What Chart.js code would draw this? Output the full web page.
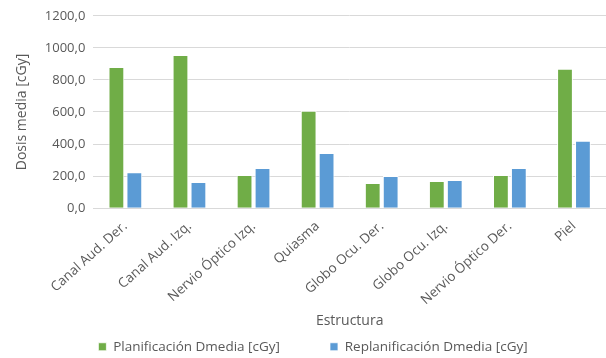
<!DOCTYPE html>
<html><head><meta charset="utf-8">
<script src="https://cdn.jsdelivr.net/npm/chart.js@4/dist/chart.umd.min.js"></script>
<style>html,body{margin:0;padding:0;background:#fff}#w{width:606px;height:358px}</style>
</head><body><div id="w"><canvas id="c"></canvas></div>
<script>
const categories = ["Canal Aud. Der.","Canal Aud. Izq.","Nervio Óptico Izq.","Quiasma","Globo Ocu. Der.","Globo Ocu. Izq.","Nervio Óptico Der.","Piel"];
const planificacion = [881, 956, 207, 607, 157, 170, 207, 869];
const replanificacion = [224, 163, 251, 344, 201, 176, 251, 421];
const seriesNames = ["Planificación Dmedia [cGy]","Replanificación Dmedia [cGy]"];
const FONT = "'Open Sans', 'Noto Sans', sans-serif";
const LEGEND_GAP = 50;
const LEGEND_H = 25;
const legendTweak = {
  id: 'legendTweak',
  beforeLayout(chart) {
    const lg = chart.legend;
    if (!lg || lg._tw) return;
    lg._tw = true;
    const origFit = lg.fit;
    lg.fit = function () { origFit.call(this); this.height = LEGEND_H; this.bottom = this.top + LEGEND_H; };
    const origDraw = lg._draw;
    lg._draw = function () {
      const ctx = this.ctx; ctx.save(); ctx.translate(5, -(LEGEND_GAP - 7)); origDraw.call(this); ctx.restore();
    };
  }
};
new Chart(document.getElementById('c'), {
  type: 'bar',
  data: {
    labels: categories,
    datasets: [
      {label: seriesNames[0], data: planificacion, backgroundColor: '#70ad47', borderColor:'#ffffff', borderWidth:{left:1,right:1,top:1,bottom:0}, barPercentage:0.88, categoryPercentage:0.56},
      {label: seriesNames[1], data: replanificacion, backgroundColor: '#5b9bd5', borderColor:'#ffffff', borderWidth:{left:1,right:1,top:1,bottom:0}, barPercentage:0.88, categoryPercentage:0.56}
    ]
  },
  options: {
    responsive: true, maintainAspectRatio: false, animation: false,
    layout: {padding: {top: 8, right: 0, left: 10, bottom: 0}},
    plugins: {
      legend: {position: 'bottom', labels: {boxWidth: 8, boxHeight: 8, color: '#595959', font: {family: FONT, size: 13.5}, padding: LEGEND_GAP},
        onClick: null},
      tooltip: {enabled: false}
    },
    scales: {
      x: {
        grid: {display: false},
        border: {color: '#d9d9d9'},
        ticks: {color: '#595959', font: {family: FONT, size: 13.5}, maxRotation: 42, minRotation: 42, autoSkip: false, padding: 2},
        title: {display: true, text: 'Estructura', color: '#595959', font: {family: FONT, size: 14}, padding: {top: 2, bottom: 4}}
      },
      y: {
        min: 0, max: 1200,
        grid: {color: '#d9d9d9', drawTicks: false},
        border: {display: false},
        ticks: {stepSize: 200, color: '#595959', font: {family: FONT, size: 13}, padding: 8,
          callback: v => v.toFixed(1).replace('.', ',')},
        title: {display: true, text: 'Dosis media [cGy]', color: '#595959', font: {family: FONT, size: 14}, padding: {bottom: 6}}
      }
    }
  },
  plugins: [legendTweak]
});
</script></body></html>
